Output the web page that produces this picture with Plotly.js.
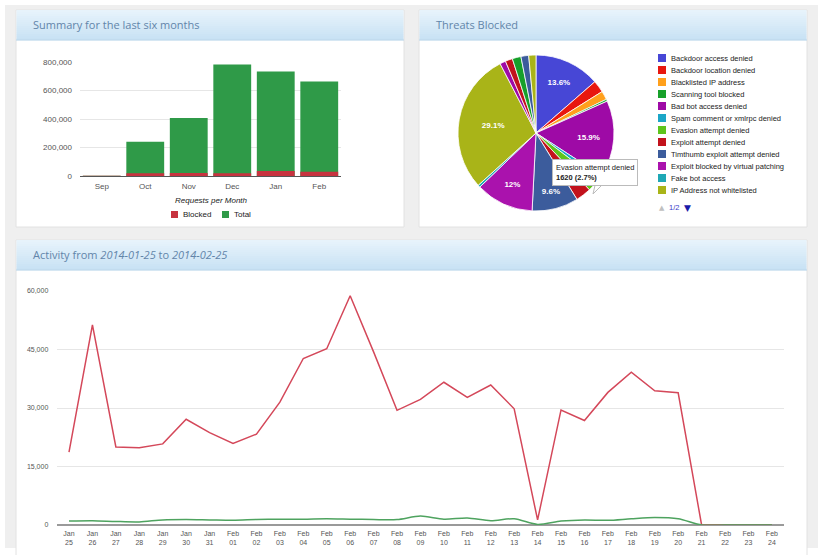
<!DOCTYPE html>
<html>
<head>
<meta charset="utf-8">
<script src="https://cdn.plot.ly/plotly-3.0.1.min.js"></script>
<style>
  html, body { margin: 0; padding: 0; background: #ffffff; }
  #chart { width: 822px; height: 555px; }
</style>
</head>
<body>
<div id="chart"></div>
<script>
// ---- Summary for the last six months ----
const months = ['Sep', 'Oct', 'Nov', 'Dec', 'Jan', 'Feb'];
const monthTotal = [2000, 240000, 407000, 782000, 733000, 663000];
const monthBlocked = [1500, 20000, 21000, 20000, 35000, 30000];
const monthTickVals = [0, 200000, 400000, 600000, 800000];

// ---- Threats blocked ----
const threatLabels = [
  'Backdoor access denied',
  'Backdoor location denied',
  'Blacklisted IP address',
  'Scanning tool blocked',
  'Bad bot access denied',
  'Spam comment or xmlrpc denied',
  'Evasion attempt denied',
  'Exploit attempt denied',
  'Timthumb exploit attempt denied',
  'Exploit blocked by virtual patching',
  'Fake bot access',
  'IP Address not whitelisted',
  'SQL injection attempt denied',
  'XSS attempt denied',
  'File inclusion attempt denied',
  'Admin area access denied',
  'Country blocked'
];
const threatCounts = [8160, 1500, 1080, 240, 9540, 660, 1620, 1920, 5760, 7200, 300, 17460, 720, 900, 1080, 960, 900];
const threatColors = [
  '#4747d6', '#e8170f', '#ffa01c', '#17a02a', '#9e0aa6', '#1ba6c7',
  '#5ec41c', '#c2121c', '#3c5c9c', '#aa12ad', '#1fa8b5', '#a9b418',
  '#9e0aa6', '#c2121c', '#17a02a', '#3c5c9c', '#a9b418'
];
const threatLegendCount = 12;   // entries on the first legend page
const threatCallout = 6;        // slice described in the callout box

// ---- Daily activity ----
const days = [
  'Jan 25', 'Jan 26', 'Jan 27', 'Jan 28', 'Jan 29', 'Jan 30', 'Jan 31',
  'Feb 01', 'Feb 02', 'Feb 03', 'Feb 04', 'Feb 05', 'Feb 06', 'Feb 07', 'Feb 08',
  'Feb 09', 'Feb 10', 'Feb 11', 'Feb 12', 'Feb 13', 'Feb 14', 'Feb 15', 'Feb 16',
  'Feb 17', 'Feb 18', 'Feb 19', 'Feb 20', 'Feb 21', 'Feb 22', 'Feb 23', 'Feb 24'
];
const dailyRequests = [
  18700, 51300, 20000, 19800, 20800, 27100, 23700,
  20900, 23300, 31500, 42700, 45200, 58800, 44400, 29400,
  32200, 36600, 32700, 35900, 29800, 1300, 29500, 26800,
  34000, 39200, 34400, 33900, 0, 0, 0, 0
];
const dailyBlocked = [
  1000, 1100, 900, 800, 1300, 1400, 1300,
  1200, 1400, 1500, 1500, 1600, 1500, 1400, 1400,
  2300, 1500, 1800, 1100, 1600, 150, 1000, 1300,
  1200, 1600, 1900, 1600, 0, 0, 0, 0
];
const dailyTickVals = [0, 15000, 30000, 45000, 60000];

// ---- page geometry helpers (pixels -> paper fractions) ----
const W = 822, H = 555;
const PX = p => p / W;
const PY = p => 1 - p / H;

const shapes = [];
const annotations = [];

function rect(x0, y0, x1, y1, fill, line, layer) {
  shapes.push({
    type: 'rect', xref: 'paper', yref: 'paper',
    x0: PX(x0), x1: PX(x1), y0: PY(y1), y1: PY(y0),
    fillcolor: fill,
    line: line ? { color: line, width: 1 } : { width: 0 },
    layer: layer || 'below'
  });
}

function hexMix(a, b, t) {
  const pa = [1, 3, 5].map(i => parseInt(a.substr(i, 2), 16));
  const pb = [1, 3, 5].map(i => parseInt(b.substr(i, 2), 16));
  return 'rgb(' + pa.map((v, k) => Math.round(v + (pb[k] - v) * t)).join(',') + ')';
}

// panel: white body and a light-blue gradient header strip
function panel(x0, y0, x1, y1, title) {
  rect(x0, y0, x1, y1, '#ffffff', '#e2e2e2');
  const hh = 30, steps = 15;
  for (let i = 0; i < steps; i++) {
    const a = y0 + i * hh / steps, b = y0 + (i + 1) * hh / steps;
    rect(x0 + 0.5, a, x1 - 0.5, b + 0.3, hexMix('#e7f3fb', '#c8e2f4', i / (steps - 1)));
  }
  shapes.push({
    type: 'line', xref: 'paper', yref: 'paper',
    x0: PX(x0), x1: PX(x1), y0: PY(y0 + hh), y1: PY(y0 + hh),
    line: { color: '#bcd6ea', width: 1 }, layer: 'below'
  });
  annotations.push({
    xref: 'paper', yref: 'paper', x: PX(x0 + 15), y: PY(y0 + 15),
    xanchor: 'left', yanchor: 'middle', showarrow: false, text: title,
    font: { family: 'Open Sans', size: 11, color: '#6285aa' }
  });
}

// page background
rect(5, 5, 818, 548, '#efefef');
panel(16, 10, 404, 227, 'Summary for the last six months');
panel(419, 10, 807, 227, 'Threats Blocked');
panel(16, 240, 807, 560, 'Activity from <i>2014-01-25</i> to <i>2014-02-25</i>');

const tickFont = { family: 'Arial', size: 8, color: '#555555' };
const smallFont = { family: 'Arial', size: 7, color: '#555555' };

// ---- bar chart extras: axis caption and legend ----
annotations.push({
  xref: 'paper', yref: 'paper', x: PX(211), y: PY(200),
  xanchor: 'center', yanchor: 'middle', showarrow: false,
  text: '<i>Requests per Month</i>', font: { family: 'Arial', size: 8, color: '#222' }
});
const barLegend = [
  { name: 'Blocked', color: '#c7333f', x: 171 },
  { name: 'Total', color: '#2f9a48', x: 222 }
];
barLegend.forEach(item => {
  rect(item.x, 211, item.x + 7, 218, item.color, null, 'above');
  annotations.push({
    xref: 'paper', yref: 'paper', x: PX(item.x + 10), y: PY(214.5),
    xanchor: 'left', yanchor: 'middle', showarrow: false,
    text: item.name, font: { family: 'Arial', size: 8, color: '#222' }
  });
});

// ---- pie legend (first page) ----
for (let i = 0; i < threatLegendCount; i++) {
  const cy = 58 + 12 * i;
  rect(658, cy - 4, 666, cy + 4, threatColors[i], null, 'above');
  annotations.push({
    xref: 'paper', yref: 'paper', x: PX(669), y: PY(cy),
    xanchor: 'left', yanchor: 'middle', showarrow: false,
    text: threatLabels[i], font: { family: 'Arial', size: 7.5, color: '#222' }
  });
}
annotations.push(
  { xref: 'paper', yref: 'paper', x: PX(662), y: PY(208), xanchor: 'center', yanchor: 'middle',
    showarrow: false, text: '▲', font: { family: 'DejaVu Sans', size: 7, color: '#c0c0c0' } },
  { xref: 'paper', yref: 'paper', x: PX(674), y: PY(208), xanchor: 'center', yanchor: 'middle',
    showarrow: false, text: '1/' + Math.ceil(threatLabels.length / threatLegendCount),
    font: { family: 'Arial', size: 7.5, color: '#3a3ac8' } },
  { xref: 'paper', yref: 'paper', x: PX(687), y: PY(208), xanchor: 'center', yanchor: 'middle',
    showarrow: false, text: '▼', font: { family: 'DejaVu Sans', size: 9, color: '#1a1aa8' } }
);

// ---- callout box for one slice ----
const threatSum = threatCounts.reduce((a, b) => a + b, 0);
const calloutPct = (threatCounts[threatCallout] / threatSum * 100).toFixed(1);
shapes.push({
  type: 'path', xref: 'paper', yref: 'paper',
  path: 'M' + PX(596) + ',' + PY(181) + ' L' + PX(606) + ',' + PY(181) + ' L' + PX(593) + ',' + PY(194) + ' Z',
  fillcolor: '#ffffff', line: { color: '#bbbbbb', width: 1 }, layer: 'above'
});
annotations.push({
  xref: 'paper', yref: 'paper', x: PX(552), y: PY(159),
  xanchor: 'left', yanchor: 'top', showarrow: false, align: 'left',
  bgcolor: '#ffffff', bordercolor: '#bbbbbb', borderwidth: 1, borderpad: 3,
  text: threatLabels[threatCallout] + '<br><b>' + threatCounts[threatCallout] + ' (' + calloutPct + '%)</b>',
  font: { family: 'Arial', size: 7.5, color: '#222' }
});

const pieText = threatCounts.map(v => (v / threatSum >= 0.05 ? '<b>%{percent:.3~p}</b>' : ''));

const traces = [
  {
    type: 'bar', x: months, y: monthTotal, name: 'Total',
    marker: { color: '#2f9a48' }, xaxis: 'x', yaxis: 'y',
    hoverinfo: 'none', showlegend: false
  },
  {
    type: 'bar', x: months, y: monthBlocked, name: 'Blocked',
    marker: { color: '#c7333f' }, xaxis: 'x', yaxis: 'y',
    hoverinfo: 'none', showlegend: false
  },
  {
    type: 'pie', labels: threatLabels, values: threatCounts,
    marker: { colors: threatColors, line: { color: '#ffffff', width: 0.8 } },
    sort: false, direction: 'clockwise', rotation: 0,
    domain: { x: [PX(458), PX(614)], y: [PY(211), PY(55)] },
    textposition: 'inside', insidetextorientation: 'horizontal',
    texttemplate: pieText,
    textfont: { family: 'Arial', size: 8, color: '#ffffff' },
    hoverinfo: 'none', showlegend: false
  },
  {
    type: 'scatter', mode: 'lines', x: days, y: dailyRequests, name: 'Requests',
    line: { color: '#d4485a', width: 1.5 }, xaxis: 'x2', yaxis: 'y2',
    hoverinfo: 'none', showlegend: false
  },
  {
    type: 'scatter', mode: 'lines', x: days, y: dailyBlocked, name: 'Blocked',
    line: { color: '#4ea35f', width: 1.5, shape: 'spline', smoothing: 0.8 }, xaxis: 'x2', yaxis: 'y2',
    hoverinfo: 'none', showlegend: false
  }
];

const layout = {
  width: W, height: H,
  margin: { l: 0, r: 0, t: 0, b: 0 },
  paper_bgcolor: '#ffffff',
  plot_bgcolor: 'rgba(0,0,0,0)',
  barmode: 'overlay',
  bargap: 0.13,
  showlegend: false,
  xaxis: {
    domain: [PX(80), PX(341)], anchor: 'y', type: 'category',
    showgrid: false, zeroline: false, showline: false, ticks: '',
    tickfont: tickFont, ticklabelstandoff: 4, fixedrange: true
  },
  yaxis: {
    domain: [PY(176), PY(62)], anchor: 'x', range: [0, 800000],
    tickvals: monthTickVals, tickformat: ',', tickfont: tickFont,
    gridcolor: '#e6e6e6', gridwidth: 1,
    zeroline: true, zerolinecolor: '#555555', zerolinewidth: 1,
    ticks: '', ticklabelstandoff: 7, fixedrange: true
  },
  xaxis2: {
    domain: [PX(57.3), PX(783.6)], anchor: 'y2', type: 'category',
    range: [-0.5, days.length - 0.5],
    tickvals: days, ticktext: days.map(d => d.replace(' ', '<br>')),
    showgrid: false, zeroline: false, showline: false, ticks: '',
    tickfont: smallFont, ticklabelstandoff: 3, tickangle: 0, fixedrange: true
  },
  yaxis2: {
    domain: [PY(525), PY(291)], anchor: 'x2', range: [0, 60000],
    tickvals: dailyTickVals, tickformat: ',', tickfont: smallFont,
    gridcolor: '#e6e6e6', gridwidth: 1,
    zeroline: true, zerolinecolor: '#9a9a9a', zerolinewidth: 1.5,
    ticks: '', ticklabelstandoff: 8, fixedrange: true
  },
  shapes: shapes,
  annotations: annotations
};

Plotly.newPlot('chart', traces, layout, { displayModeBar: false, staticPlot: true });
</script>
</body>
</html>
